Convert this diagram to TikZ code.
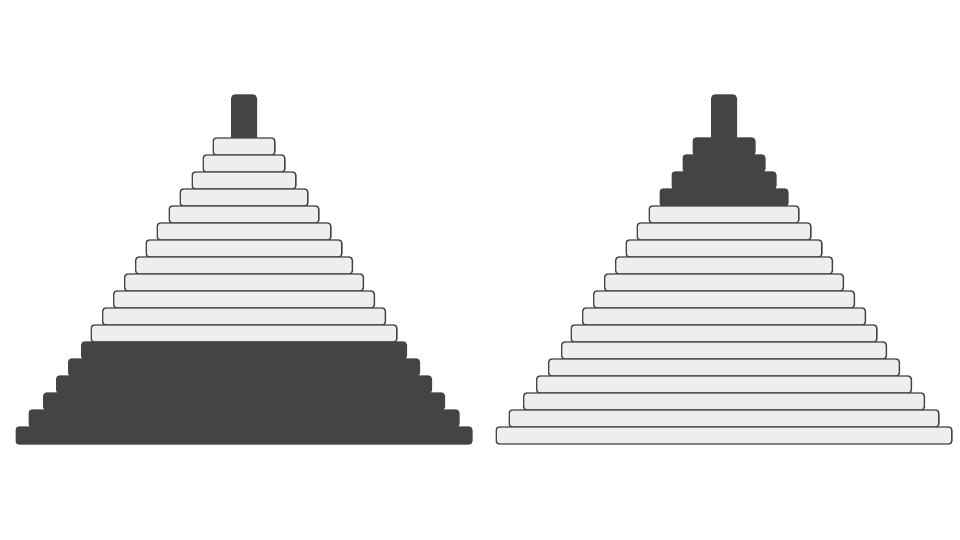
\documentclass[tikz,border=0pt]{standalone}
\definecolor{dk}{HTML}{444444}
\definecolor{lt}{HTML}{EEEEEE}
\begin{document}
\begin{tikzpicture}[x=1pt,y=-1pt,
  disc/.style={rectangle, rounded corners=3pt, draw=dk, line width=1.4pt,
    minimum height=17pt, inner sep=0pt, outer sep=0pt},
  litedisc/.style={disc, fill=lt},
  darkdisc/.style={disc, fill=dk},
  pegbox/.style={rectangle, rounded corners=3.5pt, fill=dk, draw=dk, line width=1.4pt,
    minimum width=24.6pt, minimum height=46pt, inner sep=0pt, outer sep=0pt}]
\useasboundingbox (0,0) rectangle (960,540);
% pegs
\node[pegbox] (Lpeg) at (244,118) {};
\node[pegbox] (Rpeg) at (724,118) {};
% discs
\foreach \i/\w in {1/63,2/83,3/105,4/129,5/151,6/175,7/197,8/218,9/240,10/262,11/284,12/307,13/326,14/352,15/376,16/402,17/431,18/457}{
  \pgfmathsetmacro\yy{146.5+17*(\i-1)}
  \pgfmathsetmacro\ww{\w-1.4}
  \ifnum\i<13
    \node[litedisc, minimum width=\ww pt] (L\i) at (244,\yy) {};
  \else
    \node[darkdisc, minimum width=\ww pt] (L\i) at (244,\yy) {};
  \fi
  \ifnum\i<5
    \node[darkdisc, minimum width=\ww pt] (R\i) at (724,\yy) {};
  \else
    \node[litedisc, minimum width=\ww pt] (R\i) at (724,\yy) {};
  \fi
}
\end{tikzpicture}
\end{document}
